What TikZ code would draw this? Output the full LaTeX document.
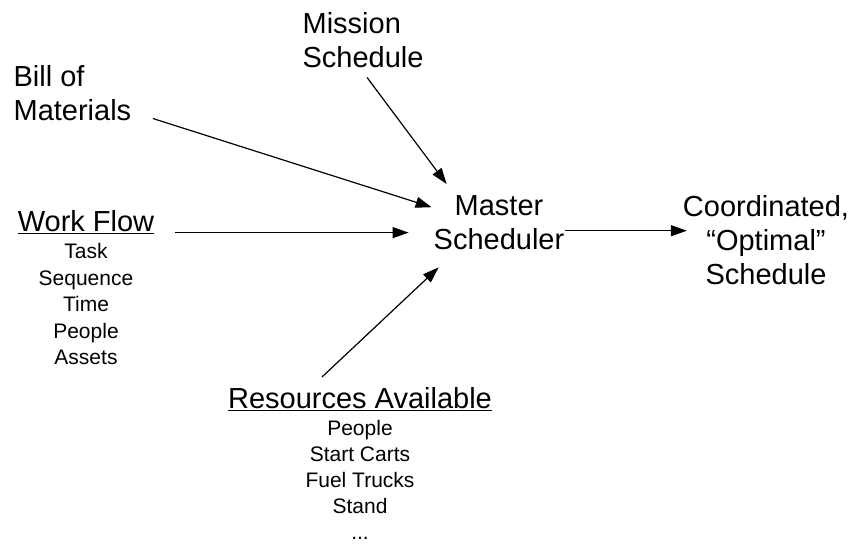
\documentclass[tikz,border=0pt]{standalone}
\usepackage{fontspec}
\setmainfont{Liberation Sans}
\usetikzlibrary{arrows.meta,calc}
\begin{document}
\begin{tikzpicture}[x=1pt,y=1pt,line width=1.2pt,
    >={Triangle[length=16pt,width=11pt]},
    bigtext/.style={font=\fontsize{29}{34}\selectfont,inner sep=0pt},
    smalltext/.style={font=\fontsize{21}{26.5}\selectfont,inner sep=0pt,align=center}]
            \useasboundingbox (0,0) rectangle (852,546);
            \node[bigtext,align=left,anchor=north west] (mission) at (302,534) {Mission\\Schedule};
            \node[bigtext,align=left,anchor=north west] (bom) at (13,481) {Bill of\\Materials};
            \node[bigtext,align=center,anchor=north] (master) at (499,351) {Master\\Scheduler};
            \node[bigtext,align=center,anchor=north] (result) at (766,351) {Coordinated,\\``Optimal''\\Schedule};
            \node[bigtext,anchor=north] (workflow) at (86,336) {\underline{Work Flow}};
            \node[smalltext,anchor=north] (wfitems) at (86,303) {Task\\Sequence\\Time\\People\\Assets};
            \node[bigtext,anchor=north] (resources) at (360,159) {\underline{Resources Available}};
            \node[smalltext,font=\fontsize{21}{26}\selectfont,anchor=north] (resitems) at (360,126) {People\\Start Carts\\Fuel Trucks\\Stand\\...};
            \coordinate (wfout) at ([shift={(20.5,-1)}]workflow.base east);
            \coordinate (masterout) at ([yshift=-8]master.east);
            \draw[->] ([shift={(4,-9)}]mission.south) -- ([shift={(13.5,11)}]master.north west);
            \draw[->] ([shift={(21,3)}]bom.south east) -- ([shift={(-1.5,15.5)}]master.west);
            \draw[->] (wfout) -- ($(wfout -| master.west)+(-24.5,0)$);
            \draw[->] ([shift={(-38,10)}]resources.north) -- ([shift={(5.5,-17)}]master.south west);
            \draw[->] (masterout) -- ($(masterout -| result.west)+(4.5,0)$);
        \end{tikzpicture}
\end{document}
